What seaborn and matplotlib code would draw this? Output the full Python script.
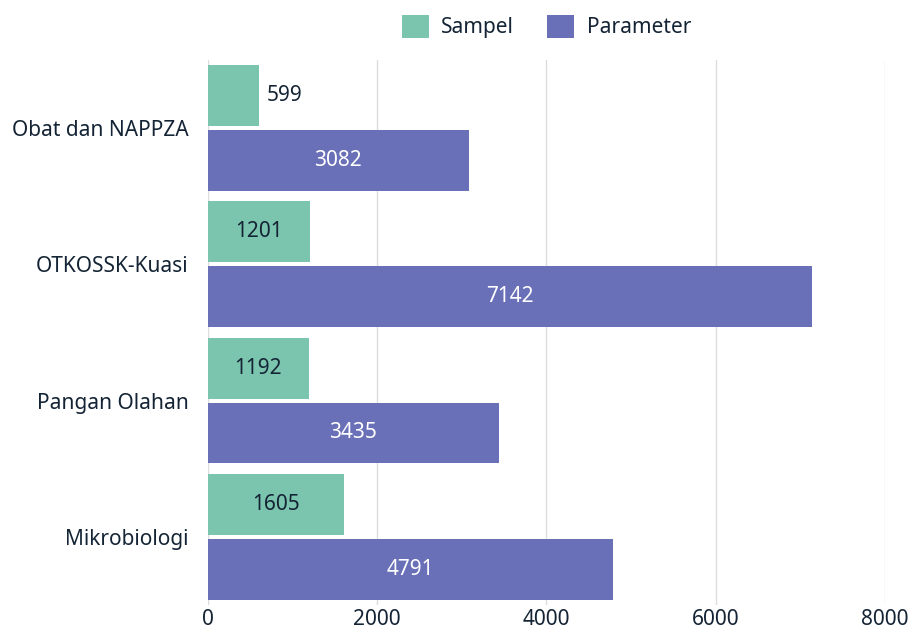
import matplotlib
matplotlib.use('Agg')
import matplotlib.pyplot as plt
import seaborn as sns
import pandas as pd

# Data
kategori = ['Obat dan NAPPZA', 'OTKOSSK-Kuasi', 'Pangan Olahan', 'Mikrobiologi']
sampel = [599, 1201, 1192, 1605]
parameter = [3082, 7142, 3435, 4791]
seri = ['Sampel', 'Parameter']
warna = ['#7bc4ae', '#6a70b8']
x_ticks = [0, 2000, 4000, 6000, 8000]

df = pd.DataFrame({
    'Kategori': kategori * 2,
    'Nilai': sampel + parameter,
    'Jenis': [seri[0]] * len(kategori) + [seri[1]] * len(kategori),
})

sns.set_style('white')
plt.rcParams['font.family'] = ['Noto Sans', 'DejaVu Sans']
text_color = '#142435'
fs = 15

fig = plt.figure(figsize=(9.16, 6.35), dpi=100)
ax = fig.add_axes([0.227, 0.047, 0.739, 0.859])

sns.barplot(data=df, y='Kategori', x='Nilai', hue='Jenis', orient='h',
            palette=warna, saturation=1, width=0.95, gap=0.06,
            linewidth=0, ax=ax, legend=True)

# Labels on bars
for container, name in zip(ax.containers, seri):
    for bar, val in zip(container, container.datavalues):
        cy = bar.get_y() + bar.get_height() / 2
        if name == 'Sampel':
            if val < 1000:
                ax.text(val + 100, cy, f'{int(val)}', ha='left', va='center',
                        fontsize=fs, color=text_color)
            else:
                ax.text(val / 2, cy, f'{int(val)}', ha='center', va='center',
                        fontsize=fs, color=text_color)
        else:
            ax.text(val / 2, cy, f'{int(val)}', ha='center', va='center',
                    fontsize=fs, color='white')

ax.set_xlim(0, 8000)
ax.set_xticks(x_ticks)
ax.set_xticklabels([str(t) for t in x_ticks])
ax.grid(axis='x', color='#dcdde0', linewidth=1)
ax.set_axisbelow(True)
for s in ax.spines.values():
    s.set_visible(False)
ax.set_xlabel('')
ax.set_ylabel('')
ax.tick_params(axis='both', length=0, labelsize=fs, colors=text_color)
ax.tick_params(axis='y', pad=14)
ax.tick_params(axis='x', pad=3)

leg = ax.legend(loc='lower center', bbox_to_anchor=(0.5, 1.005), ncol=2,
                frameon=False, fontsize=fs, handlelength=1.3, handleheight=1.3,
                columnspacing=1.6, handletextpad=0.6)
for t in leg.get_texts():
    t.set_color(text_color)

plt.savefig('out.png', dpi=100)
plt.close()
